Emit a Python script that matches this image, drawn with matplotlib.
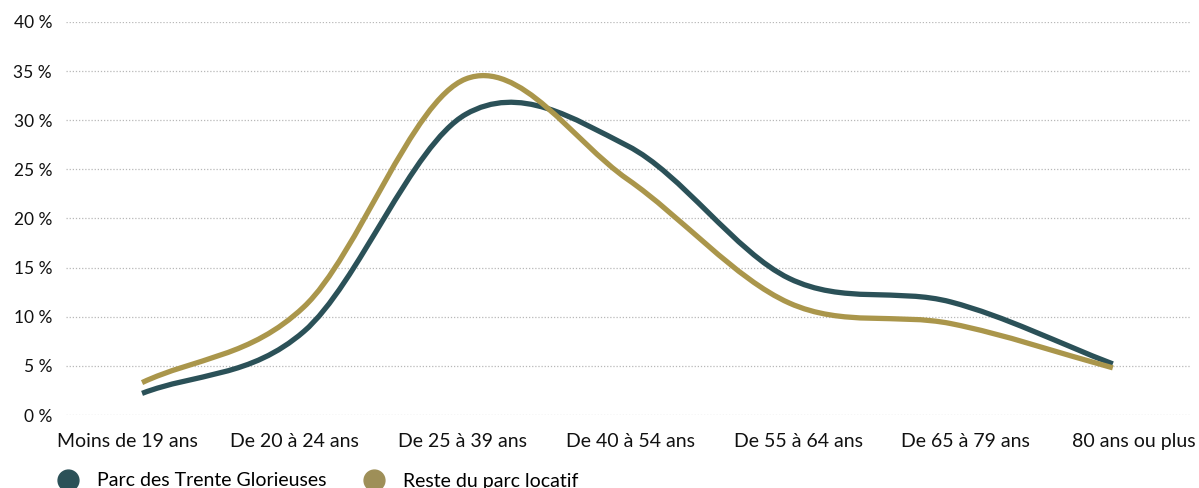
import numpy as np
import matplotlib.pyplot as plt
from matplotlib.path import Path
from matplotlib.patches import PathPatch
from matplotlib.lines import Line2D

plt.rcParams['font.family'] = ['Lato', 'DejaVu Sans']

categories = ['Moins de 19 ans', 'De 20 à 24 ans', 'De 25 à 39 ans', 'De 40 à 54 ans',
              'De 55 à 64 ans', 'De 65 à 79 ans', '80 ans ou plus']
trente_glorieuses = [2.2, 8.5, 30.6, 27.4, 13.9, 11.5, 5.2]
reste_parc = [3.3, 11.0, 34.2, 24.0, 11.4, 9.3, 4.8]
series_names = ['Parc des Trente Glorieuses', 'Reste du parc locatif']
yticks = [0, 5, 10, 15, 20, 25, 30, 35, 40]

TEAL = '#2b5158'
GOLD = '#aa964b'


def smooth_path(x, y):
    # cardinal (catmull-rom) spline drawn as cubic bezier segments
    x = np.asarray(x, float)
    y = np.asarray(y, float)
    n = len(x)
    m = np.zeros(n)
    m[0] = (y[1] - y[0]) / (x[1] - x[0])
    m[-1] = (y[-1] - y[-2]) / (x[-1] - x[-2])
    for i in range(1, n - 1):
        m[i] = (y[i + 1] - y[i - 1]) / (x[i + 1] - x[i - 1])
    verts = [(x[0], y[0])]
    codes = [Path.MOVETO]
    for i in range(n - 1):
        h = x[i + 1] - x[i]
        verts += [(x[i] + h / 3, y[i] + m[i] * h / 3),
                  (x[i + 1] - h / 3, y[i + 1] - m[i + 1] * h / 3),
                  (x[i + 1], y[i + 1])]
        codes += [Path.CURVE4] * 3
    return Path(verts, codes)


fig = plt.figure(figsize=(11.99, 4.88), dpi=100)
ax = fig.add_axes([66 / 1199, 1 - 415 / 488, (1190 - 66) / 1199, (415 - 22) / 488])

xs = np.arange(len(categories))
for vals, col in [(trente_glorieuses, TEAL), (reste_parc, GOLD)]:
    patch = PathPatch(smooth_path(xs, vals), facecolor='none', edgecolor=col,
                      lw=3.8, capstyle='butt', joinstyle='round', zorder=3)
    ax.add_patch(patch)

ax.set_xlim(-0.47, 6.477)
ax.set_ylim(0, 40)
ax.set_yticks(yticks)
ax.set_yticklabels([f'{v} %' for v in yticks])
ax.set_xticks(-0.093 + 1.037 * xs)
ax.set_xticklabels(categories)
ax.tick_params(axis='both', length=0, colors='#111111')
ax.tick_params(axis='y', pad=10, labelsize=12.5)
ax.tick_params(axis='x', pad=13, labelsize=14)
ax.grid(axis='y', color='#b8b8b8', linestyle=(0, (1, 1.5)), linewidth=0.9)
ax.set_axisbelow(True)
for s in ax.spines.values():
    s.set_visible(False)

handles = [Line2D([], [], marker='o', linestyle='none', markersize=15,
                  markerfacecolor=c, markeredgecolor=c) for c in [TEAL, '#9e8f58']]
fig.legend(handles, series_names, loc='center left', bbox_to_anchor=(56 / 1199, 1 - 481 / 488),
           ncol=2, frameon=False, fontsize=14, handletextpad=0.9, columnspacing=1.85,
           borderpad=0, borderaxespad=0, handlelength=1.2)

fig.savefig('out.png', dpi=100)
